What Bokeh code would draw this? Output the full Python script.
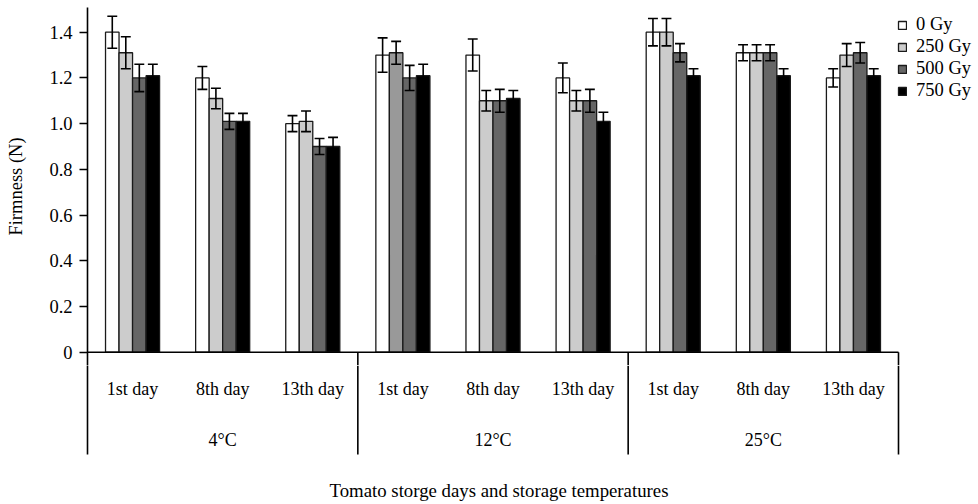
from bokeh.plotting import figure
from bokeh.models import (Range1d, FixedTicker, NumeralTickFormatter, ColumnDataSource,
                          Legend, LegendItem)
from bokeh.layouts import column
from bokeh.core.properties import value
from bokeh.embed import file_html
from bokeh.resources import INLINE

# ---------------- data ----------------
temperatures = ["4°C", "12°C", "25°C"]
days = ["1st day", "8th day", "13th day"]
doses = ["0 Gy", "250 Gy", "500 Gy", "750 Gy"]

# order: 4°C (1st, 8th, 13th), 12°C (1st, 8th, 13th), 25°C (1st, 8th, 13th)
firm_0 = [1.40, 1.20, 1.00, 1.30, 1.30, 1.20, 1.40, 1.31, 1.20]
firm_250 = [1.31, 1.11, 1.01, 1.31, 1.10, 1.10, 1.40, 1.31, 1.30]
firm_500 = [1.20, 1.01, 0.90, 1.20, 1.10, 1.10, 1.31, 1.31, 1.31]
firm_750 = [1.21, 1.01, 0.90, 1.21, 1.11, 1.01, 1.21, 1.21, 1.21]

err_0 = [0.07, 0.05, 0.035, 0.075, 0.07, 0.065, 0.06, 0.035, 0.04]
err_250 = [0.07, 0.045, 0.045, 0.05, 0.045, 0.045, 0.06, 0.035, 0.05]
err_500 = [0.06, 0.035, 0.035, 0.055, 0.05, 0.05, 0.04, 0.035, 0.045]
err_750 = [0.05, 0.035, 0.04, 0.05, 0.035, 0.04, 0.03, 0.03, 0.03]

y_ticks = [0, 0.2, 0.4, 0.6, 0.8, 1.0, 1.2, 1.4]

series_values = [firm_0, firm_250, firm_500, firm_750]
series_errors = [err_0, err_250, err_500, err_750]
series_colors = ["#ffffff", "#cccccc", "#666666", "#000000"]
# one bar in the source (12°C, 1st day, 250 Gy) is drawn in a darker grey
special_color = {(1, 3): "#999999"}

FONT = "Liberation Serif"
n_groups = len(temperatures) * len(days)
bar_w = 0.15
offsets = [-0.225, -0.075, 0.075, 0.225]
px_per_x = 811 / 9.0
x_end = 891 / px_per_x
x_range = Range1d(0, x_end)

Y_TOP, Y_SPLIT, Y_BOTTOM = 1.508, -0.058, -0.666
SEP_END = -0.4475


def style_left_axis(ax):
    ax.axis_line_color = "black"
    ax.axis_line_width = 1.6
    ax.minor_tick_line_color = None


# ---------------- top figure (bars) ----------------
p = figure(width=978, height=365, x_range=x_range, y_range=Range1d(Y_SPLIT, Y_TOP),
           x_axis_location=None, output_backend="svg", toolbar_location=None,
           min_border_left=87, min_border_right=0, min_border_top=7, min_border_bottom=0)
p.background_fill_color = "white"
p.border_fill_color = "white"
p.outline_line_color = None
p.xgrid.visible = False
p.ygrid.visible = False

legend_items = []
for k, (vals, errs, col) in enumerate(zip(series_values, series_errors, series_colors)):
    xs = [g + 0.5 + offsets[k] for g in range(n_groups)]
    cols = [special_color.get((k, g), col) for g in range(n_groups)]
    src = ColumnDataSource(dict(x=xs, top=vals, color=cols,
                                lo=[v - e for v, e in zip(vals, errs)],
                                hi=[v + e for v, e in zip(vals, errs)],
                                cl=[x - 0.055 for x in xs], cr=[x + 0.055 for x in xs]))
    r = p.vbar(x="x", top="top", bottom=0, width=bar_w, source=src,
               fill_color="color", line_color="#1a1a1a", line_width=1.3)
    legend_items.append(LegendItem(label=doses[k], renderers=[r]))
    p.segment(x0="x", y0="lo", x1="x", y1="hi", source=src, line_color="black", line_width=1.6)
    p.segment(x0="cl", y0="hi", x1="cr", y1="hi", source=src, line_color="black", line_width=1.6)
    p.segment(x0="cl", y0="lo", x1="cr", y1="lo", source=src, line_color="black", line_width=1.6)

# x axis baseline and top part of the group separators
p.segment(x0=[0], y0=[0], x1=[n_groups], y1=[0], line_color="black", line_width=1.6)
sep_x = [i * len(days) for i in range(1, len(temperatures) + 1)]
p.segment(x0=sep_x, y0=[0] * len(sep_x), x1=sep_x, y1=[Y_BOTTOM] * len(sep_x),
          line_color="black", line_width=1.6)

yax = p.yaxis[0]
style_left_axis(yax)
yax.ticker = FixedTicker(ticks=y_ticks)
yax.formatter = NumeralTickFormatter(format="0.0")
yax.major_label_overrides = {0: "0"}
yax.major_tick_in = 0
yax.major_tick_out = 8
yax.major_tick_line_color = "black"
yax.major_tick_line_width = 1.5
yax.major_label_text_font = FONT
yax.major_label_text_font_size = "18.5px"
yax.major_label_text_color = "black"
yax.major_label_standoff = 7
yax.axis_label = "Firmness (N)"
yax.axis_label_text_font = FONT
yax.axis_label_text_font_size = "18.5px"
yax.axis_label_text_font_style = "normal"
yax.axis_label_text_color = "black"
yax.axis_label_standoff = 20

legend = Legend(items=legend_items, location=(810, 264), margin=0, padding=0,
                spacing=1, glyph_width=10, glyph_height=10, label_height=20,
                label_standoff=9, label_text_font=FONT, label_text_font_size="18.5px",
                label_text_color="black", border_line_color=None,
                background_fill_alpha=0)
p.add_layout(legend)

# ---------------- bottom figure (category axis) ----------------
b = figure(width=978, height=139, x_range=x_range, y_range=Range1d(Y_BOTTOM, Y_SPLIT),
           x_axis_location=None, output_backend="svg", toolbar_location=None,
           min_border_left=87, min_border_right=0, min_border_top=0, min_border_bottom=0)
b.background_fill_color = "white"
b.border_fill_color = "white"
b.outline_line_color = None
b.xgrid.visible = False
b.ygrid.visible = False

bax = b.yaxis[0]
style_left_axis(bax)
bax.ticker = FixedTicker(ticks=[])
bax.major_tick_line_color = None
bax.major_label_text_font_size = "0px"
bax.bounds = (SEP_END, Y_SPLIT)

b.segment(x0=sep_x, y0=[Y_SPLIT] * len(sep_x), x1=sep_x, y1=[SEP_END] * len(sep_x),
          line_color="black", line_width=1.6)

day_x = [g + 0.5 for g in range(n_groups)]
day_lbl = [days[g % len(days)] for g in range(n_groups)]
b.text(x=day_x, y=[-0.159] * n_groups, text=day_lbl, text_align="center",
       text_baseline="middle", text_font=value(FONT), text_font_size="18px",
       text_color="black")
temp_x = [i * len(days) + len(days) / 2 for i in range(len(temperatures))]
b.text(x=temp_x, y=[-0.386] * len(temperatures), text=temperatures, text_align="center",
       text_baseline="middle", text_font=value(FONT), text_font_size="18px",
       text_color="black")
b.text(x=[n_groups / 2], y=[-0.605], text=["Tomato storge days and storage temperatures"],
       x_offset=6, text_align="center", text_baseline="middle", text_font=value(FONT),
       text_font_size="18.8px", text_color="black")

layout = column(p, b, spacing=0)
open("out.html", "w").write(file_html(layout, INLINE))
